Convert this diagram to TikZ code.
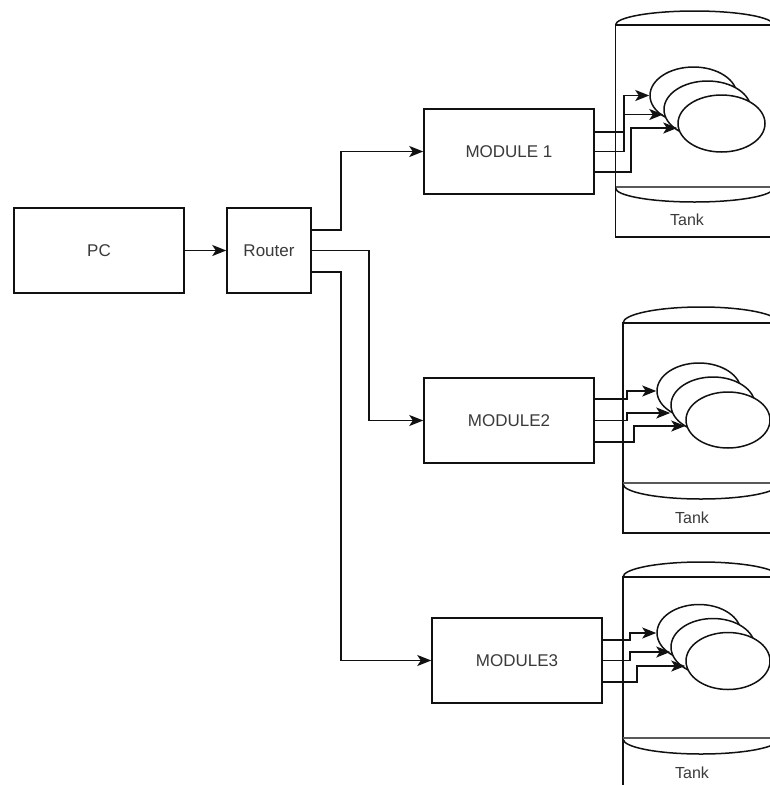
\documentclass[tikz,border=0pt]{standalone}
\usepackage{fontspec}
\setmainfont{Liberation Sans}
\usetikzlibrary{arrows.meta,shapes.geometric,calc}
\definecolor{ln}{HTML}{111111}
\definecolor{tx}{HTML}{3A3A3A}
\begin{document}
\begin{tikzpicture}[x=1pt,y=1pt,line width=1.5pt,
  tline/.style={draw=ln,line width=1.5pt},
  box/.style={draw=ln,line width=1.5pt,rectangle,inner sep=0pt,minimum height=85pt,text=tx,font=\fontsize{17}{20}\selectfont},
  ell/.style={draw=ln,line width=1.5pt,ellipse,fill=white,inner sep=0pt},
  arr/.style={-{Stealth[length=14pt,width=11pt,inset=3.5pt]},line width=1.5pt,draw=ln},
  band/.style={line width=2.4pt,draw=gray!70!black},
  tanklbl/.style={text=tx,font=\fontsize{16}{18}\selectfont}]
\useasboundingbox (0,0) rectangle (770,-785);
\clip (0,0) rectangle (770,-785);
\fill[white] (0,0) rectangle (770,-785);

% main boxes
\node[box,minimum width=170pt] (PC) at (99,-250.5) {PC};
\node[box,minimum width=84pt] (R) at (269,-250.5) {Router};
\node[box,minimum width=170pt] (M1) at (509,-151.5) {MODULE 1};
\node[box,minimum width=170pt] (M2) at (509,-420.5) {MODULE2};
\node[box,minimum width=170pt] (M3) at (517,-660.5) {MODULE3};

% tank 1
\draw[tline] (615.5,-25) rectangle (773.5,-237);
\draw[tline] (615.5,-25) arc[start angle=180,end angle=0,x radius=79,y radius=14];
\draw[band] (615.5,-187) -- (773.5,-187);
\draw[tline] (615.5,-188) arc[start angle=180,end angle=360,x radius=79,y radius=14];
\node[tanklbl] (TL1) at (687,-220) {Tank};
% tank 2
\draw[tline] (623,-323) rectangle (779,-533);
\draw[tline] (623,-323) arc[start angle=180,end angle=0,x radius=78,y radius=16];
\draw[band] (623,-483) -- (779,-483);
\draw[tline] (623,-484) arc[start angle=180,end angle=360,x radius=78,y radius=15];
\node[tanklbl] (TL2) at (692,-518) {Tank};
% tank 3
\draw[tline] (623,-577) rectangle (779,-800);
\draw[tline] (623,-577) arc[start angle=180,end angle=0,x radius=78,y radius=15];
\draw[band] (623,-738) -- (779,-738);
\draw[tline] (623,-739) arc[start angle=180,end angle=360,x radius=78,y radius=15];
\node[tanklbl] (TL3) at (692,-773) {Tank};

% ellipses
\node[ell,minimum width=87pt,minimum height=57pt] (A1) at (693.5,-95.5) {};
\node[ell,minimum width=87pt,minimum height=57pt] (A2) at (707.5,-109.5) {};
\node[ell,minimum width=87pt,minimum height=57pt] (A3) at (721.5,-123.5) {};
\node[ell,minimum width=84pt,minimum height=56pt] (B1) at (699,-391) {};
\node[ell,minimum width=84pt,minimum height=56pt] (B2) at (713,-405) {};
\node[ell,minimum width=84pt,minimum height=56pt] (B3) at (728,-420) {};
\node[ell,minimum width=84pt,minimum height=57pt] (C1) at (699,-633) {};
\node[ell,minimum width=84pt,minimum height=57pt] (C2) at (713,-647) {};
\node[ell,minimum width=84pt,minimum height=57pt] (C3) at (728,-661) {};

% PC -> Router
\draw[arr] (PC) -- (R);
% Router -> modules
\draw[arr] ($(R.east)+(0,20.5)$) -- ++(29,0) |- (M1.west);
\draw[arr] (R.east) -- ++(57,0) |- (M2.west);
\draw[arr] ($(R.east)+(0,-21.5)$) -- ++(29,0) |- (M3.west);

% module 1 -> tank 1
\draw[arr] ($(M1.east)+(0,19.5)$) -- ++(29,0) |- (A1.west);
\draw[arr] (M1.east) -- ++(29,0) |- ($(A2.west)+(0,-5)$);
\draw[arr] ($(M1.east)+(0,-20.5)$) -- ++(36,0) |- ($(A3.west)+(0,-4.5)$);
% module 2 -> tank 2
\draw[arr] ($(M2.east)+(0,21.5)$) -- ++(32,0) |- (B1.west);
\draw[arr] (M2.east) -- ++(32,0) |- ($(B2.west)+(0,-8)$);
\draw[arr] ($(M2.east)+(0,-21.5)$) -- ++(39,0) |- ($(B3.west)+(0,-6)$);
% module 3 -> tank 3
\draw[arr] ($(M3.east)+(0,20.5)$) -- ++(27,0) |- (C1.west);
\draw[arr] (M3.east) -- ++(27,0) |- ($(C2.west)+(0,-5)$);
\draw[arr] ($(M3.east)+(0,-21.5)$) -- ++(34,0) |- ($(C3.west)+(0,-5)$);
\end{tikzpicture}
\end{document}
